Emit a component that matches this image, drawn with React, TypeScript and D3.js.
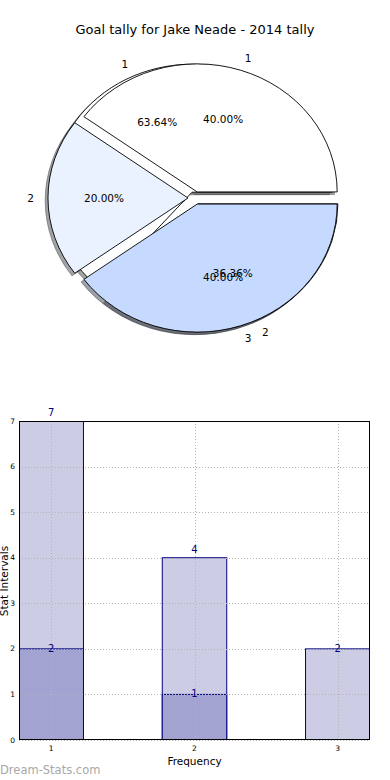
import { useEffect, useRef } from "react";
import * as d3 from "d3";

const W = 390,
  H = 780;
const FONT = "DejaVu Sans, sans-serif";

// pie data: two pies drawn over each other
const pieAValues = [7, 4];
const pieALabels = ["1", "2"];
const pieBValues = [2, 1, 2];
const pieBLabels = ["1", "2", "3"];
const pieColors = ["#ffffff", "#eaf1ff", "#c6d9ff"];
const explode = 0.05;

// bar data
const barCats = [1, 2, 3];
const barLight = [7, 4, 2];
const barDark = [2, 1, 0];
const yTicks = [0, 1, 2, 3, 4, 5, 6, 7];

function drawPie(values, labels, cx, cy, rx, ry, layers) {
  const total = d3.sum(values);
  const slices = d3
    .pie()
    .sort(null)
    .startAngle(0)
    .endAngle(2 * Math.PI)(values);
  const arc = d3.arc().innerRadius(0).outerRadius(1);

  slices.forEach((s, i) => {
    const t1 = s.startAngle,
      t2 = s.endAngle;
    const mid = (t1 + t2) / 2;
    const ox = explode * Math.cos(mid) * rx;
    const oy = -explode * Math.sin(mid) * ry;
    const d = arc({ startAngle: Math.PI / 2 - t2, endAngle: Math.PI / 2 - t1 });
    const col = d3.rgb(pieColors[i % pieColors.length]);
    const shadowCol = `rgba(${col.r * 0.3},${col.g * 0.3},${col.b * 0.3},0.5)`;

    // shadow
    layers.shadow
      .append("path")
      .attr("d", d)
      .attr("transform", `translate(${cx + ox - 0.02 * rx},${cy + oy + 0.02 * ry}) scale(${rx},${ry})`)
      .attr("fill", shadowCol)
      .attr("stroke", shadowCol)
      .attr("stroke-width", 1)
      .attr("vector-effect", "non-scaling-stroke");

    layers.wedge
      .append("path")
      .attr("d", d)
      .attr("transform", `translate(${cx + ox},${cy + oy}) scale(${rx},${ry})`)
      .attr("fill", pieColors[i % pieColors.length])
      .attr("stroke", "#000")
      .attr("stroke-width", 0.9)
      .attr("vector-effect", "non-scaling-stroke");

    const lr = 1.1 + explode;
    layers.text
      .append("text")
      .attr("x", cx + lr * Math.cos(mid) * rx)
      .attr("y", cy - lr * Math.sin(mid) * ry)
      .attr("dy", "0.35em")
      .attr("text-anchor", Math.cos(mid) > 0 ? "start" : "end")
      .attr("font-family", FONT)
      .attr("font-size", 10.5)
      .text(labels[i]);

    const pr = 0.6 + explode;
    layers.text
      .append("text")
      .attr("x", cx + pr * Math.cos(mid) * rx)
      .attr("y", cy - pr * Math.sin(mid) * ry)
      .attr("dy", "0.35em")
      .attr("text-anchor", "middle")
      .attr("font-family", FONT)
      .attr("font-size", 10.5)
      .text(((values[i] / total) * 100).toFixed(2) + "%");
  });
}

function render(node) {
  const svg = d3.select(node);
  svg.selectAll("*").remove();

  svg
    .append("text")
    .attr("x", 195)
    .attr("y", 34)
    .attr("text-anchor", "middle")
    .attr("font-family", FONT)
    .attr("font-size", 13)
    .text("Goal tally for Jake Neade - 2014 tally");

  // pie
  const cx = 195,
    cy = 198,
    rx = 140,
    ry = 128;
  const layers = {
    shadow: svg.append("g"),
    wedge: svg.append("g"),
    text: svg.append("g"),
  };
  drawPie(pieAValues, pieALabels, cx, cy, rx, ry, layers);
  drawPie(pieBValues, pieBLabels, cx, cy, rx, ry, layers);

  // bars
  const left = 19,
    right = 370,
    top = 421,
    bottom = 740;
  const x = d3.scaleLinear().domain([0.775, 3.225]).range([left, right]);
  const y = d3.scaleLinear().domain([0, 7]).range([bottom, top]);
  const bw = x(1.45) - x(1);

  svg
    .append("clipPath")
    .attr("id", "plotclip")
    .append("rect")
    .attr("x", left)
    .attr("y", top)
    .attr("width", right - left)
    .attr("height", bottom - top);

  const plot = svg.append("g").attr("clip-path", "url(#plotclip)");
  const drawBars = (vals, fill) =>
    plot
      .selectAll(null)
      .data(vals)
      .join("rect")
      .attr("x", (d, i) => x(barCats[i]) - bw / 2)
      .attr("y", (d) => y(d))
      .attr("width", bw)
      .attr("height", (d) => y(0) - y(d))
      .attr("fill", fill)
      .attr("stroke", "#000080")
      .attr("stroke-width", 1);
  drawBars(barLight, "#ccccE4");
  drawBars(barDark, "#a3a3d1");

  // grid
  const grid = svg.append("g").attr("stroke", "#b4b4b4").attr("stroke-width", 1).attr("stroke-dasharray", "1,2");
  grid
    .selectAll(null)
    .data(yTicks)
    .join("line")
    .attr("x1", left)
    .attr("x2", right)
    .attr("y1", (d) => Math.round(y(d)) + 0.5)
    .attr("y2", (d) => Math.round(y(d)) + 0.5);
  grid
    .selectAll(null)
    .data(barCats)
    .join("line")
    .attr("x1", (d) => Math.round(x(d)) + 0.5)
    .attr("x2", (d) => Math.round(x(d)) + 0.5)
    .attr("y1", top)
    .attr("y2", bottom);

  // frame
  svg
    .append("rect")
    .attr("x", left + 0.5)
    .attr("y", top + 0.5)
    .attr("width", right - left - 1)
    .attr("height", bottom - top - 1)
    .attr("fill", "none")
    .attr("stroke", "#000")
    .attr("stroke-width", 1);

  // tick labels
  svg
    .append("g")
    .selectAll("text")
    .data(yTicks)
    .join("text")
    .attr("x", 15)
    .attr("y", (d) => y(d))
    .attr("dy", "0.35em")
    .attr("text-anchor", "end")
    .attr("font-family", FONT)
    .attr("font-size", 7.5)
    .text((d) => d);
  svg
    .append("g")
    .selectAll("text")
    .data(barCats)
    .join("text")
    .attr("x", (d) => x(d))
    .attr("y", bottom + 11)
    .attr("text-anchor", "middle")
    .attr("font-family", FONT)
    .attr("font-size", 7.5)
    .text((d) => d);

  // value labels
  const valLabels = (vals) =>
    svg
      .append("g")
      .selectAll("text")
      .data(vals.map((v, i) => ({ v, i })).filter((d) => d.v > 0))
      .join("text")
      .attr("x", (d) => x(barCats[d.i]))
      .attr("y", (d) => y(d.v) - (d.v >= 4 ? 5 : -3))
      .attr("text-anchor", "middle")
      .attr("font-family", FONT)
      .attr("font-size", 10)
      .attr("fill", "#000080")
      .text((d) => d.v);
  valLabels(barLight);
  valLabels(barDark);

  svg
    .append("text")
    .attr("x", (left + right) / 2)
    .attr("y", 765)
    .attr("text-anchor", "middle")
    .attr("font-family", FONT)
    .attr("font-size", 10.5)
    .text("Frequency");
  svg
    .append("text")
    .attr("transform", `translate(8,581) rotate(-90)`)
    .attr("text-anchor", "middle")
    .attr("font-family", FONT)
    .attr("font-size", 10.5)
    .text("Stat Intervals");

  svg
    .append("text")
    .attr("x", 0)
    .attr("y", 774)
    .attr("font-family", FONT)
    .attr("font-size", 11.5)
    .attr("fill", "#a8a8a8")
    .text("Dream-Stats.com");
}

export default function App() {
  const ref = useRef(null);
  useEffect(() => {
    if (ref.current) render(ref.current);
  }, []);
  return (
    <svg
      ref={ref}
      width={W}
      height={H}
      style={{ position: "absolute", left: 0, top: 0, background: "#fff" }}
    />
  );
}
